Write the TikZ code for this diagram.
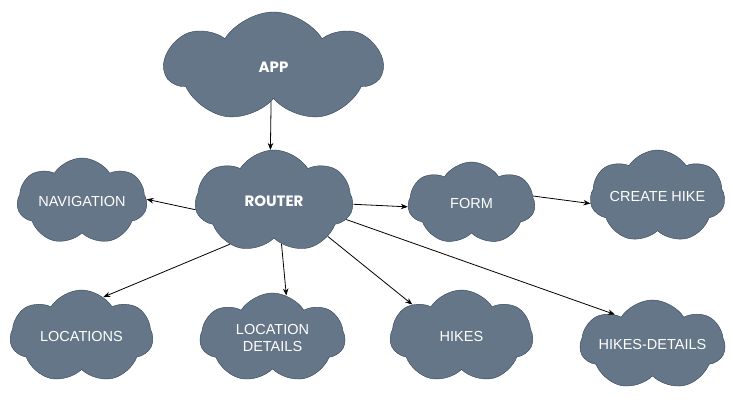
\documentclass[tikz,border=0pt]{standalone}
\usepackage{fontspec}
\setmainfont{Liberation Sans}
\newfontfamily\handfont{Poppins}
\usetikzlibrary{shapes.symbols,arrows.meta}

\definecolor{slate}{HTML}{647687}
\definecolor{slateline}{HTML}{314354}

\tikzset{
  cloudbox/.style={cloud, cloud puffs=7, cloud puff arc=115, cloud ignores aspect,
    draw=slateline, fill=slate, text=white, inner sep=0pt, align=center,
    font=\fontsize{14.5}{17}\selectfont},
  handtext/.style={font=\handfont\bfseries\fontsize{15}{18}\selectfont},
  link/.style={-{Stealth[length=7pt,width=5.5pt]}, line width=0.8pt}
}

\begin{document}
\begin{tikzpicture}[x=1pt,y=-1pt]
  \useasboundingbox (0,0) rectangle (731,401);

  % Define nodes
  \node[cloudbox, handtext, minimum width=217pt, minimum height=110pt] (app) at (273.5,67) {APP};
  \node[cloudbox, handtext, minimum width=158pt, minimum height=103pt] (router) at (274,201.5) {ROUTER};
  \node[cloudbox, minimum width=130pt, minimum height=87pt] (nav) at (82,201.5) {NAVIGATION};
  \node[cloudbox, minimum width=127pt, minimum height=83pt] (form) at (471.5,203.5) {FORM};
  \node[cloudbox, minimum width=135pt, minimum height=93pt] (create) at (657.5,196.5) {CREATE HIKE};
  \node[cloudbox, minimum width=143pt, minimum height=93pt] (locations) at (81.5,336.5) {LOCATIONS};
  \node[cloudbox, minimum width=145pt, minimum height=90pt] (locdetails) at (272.5,338) {LOCATION\\DETAILS};
  \node[cloudbox, minimum width=143pt, minimum height=93pt] (hikes) at (461.5,336.5) {HIKES};
  \node[cloudbox, minimum width=145pt, minimum height=90pt] (hikedetails) at (652.5,345) {HIKES-DETAILS};

  % Connect the nodes
  \draw[link] (app.266) -- (router.94);
  \draw[link] (router.186) -- (nav.2);
  \draw[link] (router.358) -- (form.183);
  \draw[link] (form.7) -- (create.186);
  \draw[link] (router.224) -- (locations.61);
  \draw[link] (router.280) -- (locdetails.72);
  \draw[link] (router.327) -- (hikes.147);
  \draw[link] (router.346) -- (hikedetails.141);

\end{tikzpicture}
\end{document}
